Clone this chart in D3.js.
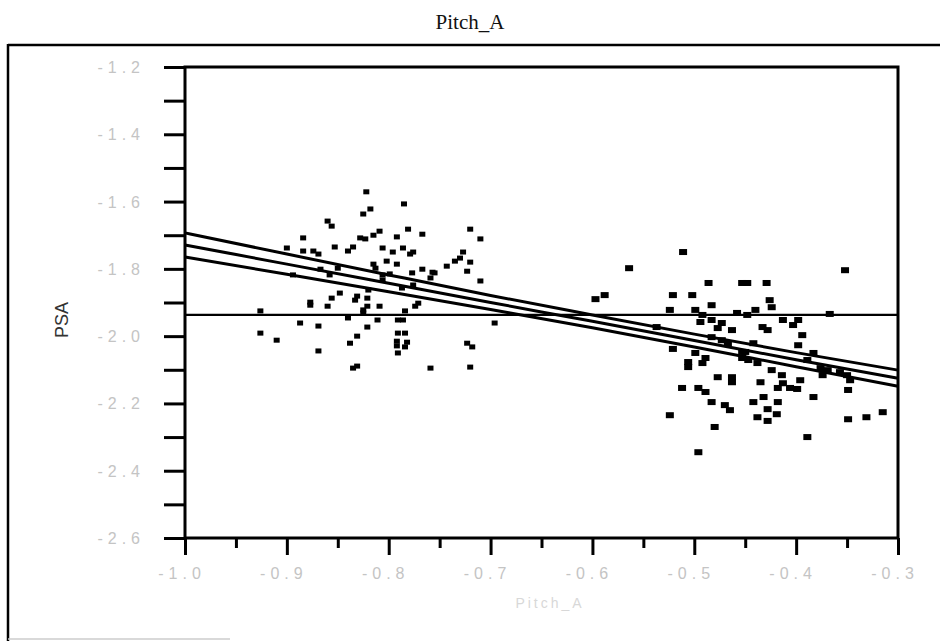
<!DOCTYPE html>
<html><head><meta charset="utf-8">
<script src="https://cdn.jsdelivr.net/npm/d3@7"></script>
<style>body{margin:0;background:#fff}svg{display:block}</style>
</head><body>
<script>
// ---- data ----
const title = "Pitch_A";
const yTitle = "PSA";
const xTitle = "Pitch_A";
const xDomain = [-1.0, -0.3];
const yDomain = [-2.6, -1.2];
const xTickValues = [-1.0, -0.9, -0.8, -0.7, -0.6, -0.5, -0.4, -0.3];
const xTickLabels = ["-1.0", "-0.9", "-0.8", "-0.7", "-0.6", "-0.5", "-0.4", "-0.3"];
const yTickValues = [-2.6, -2.4, -2.2, -2.0, -1.8, -1.6, -1.4, -1.2];
const yTickLabels = ["-2.6", "-2.4", "-2.2", "-2.0", "-1.8", "-1.6", "-1.4", "-1.2"];
const meanY = -1.937;
const fitX = [-1.0, -0.9, -0.8, -0.7, -0.6, -0.5, -0.4, -0.3];
const fitY = [-1.729, -1.786, -1.843, -1.900, -1.956, -2.013, -2.070, -2.125];
const upperY = [-1.693, -1.756, -1.818, -1.879, -1.937, -1.994, -2.049, -2.101];
const lowerY = [-1.765, -1.816, -1.868, -1.921, -1.975, -2.032, -2.091, -2.149];

const groupAX = [-0.822,-0.785,-0.818,-0.825,-0.860,-0.856,-0.720,-0.781,-0.809,-0.767,-0.815,-0.884,-0.792,-0.828,-0.823,-0.710,-0.835,-0.853,-0.900,-0.806,-0.786,-0.884,-0.874,-0.840,-0.796,-0.776,-0.869,-0.779,-0.727,-0.730,-0.802,-0.735,-0.720,-0.792,-0.815,-0.743,-0.813,-0.767,-0.723,-0.850,-0.867,-0.757,-0.755,-0.777,-0.759,-0.894,-0.858,-0.806,-0.799,-0.806,-0.710,-0.776,-0.787,-0.820,-0.848,-0.831,-0.856,-0.821,-0.833,-0.877,-0.877,-0.860,-0.809,-0.821,-0.771,-0.774,-0.825,-0.926,-0.784,-0.825,-0.840,-0.811,-0.791,-0.786,-0.887,-0.869,-0.821,-0.696,-0.926,-0.791,-0.784,-0.831,-0.910,-0.792,-0.782,-0.838,-0.723,-0.718,-0.792,-0.784,-0.869,-0.791,-0.831,-0.835,-0.759,-0.720];
const groupAY = [-1.571,-1.607,-1.622,-1.637,-1.658,-1.673,-1.682,-1.682,-1.688,-1.697,-1.700,-1.708,-1.705,-1.708,-1.711,-1.711,-1.735,-1.735,-1.738,-1.738,-1.738,-1.747,-1.747,-1.747,-1.750,-1.750,-1.756,-1.756,-1.750,-1.768,-1.777,-1.777,-1.780,-1.786,-1.786,-1.792,-1.798,-1.801,-1.807,-1.798,-1.801,-1.810,-1.812,-1.812,-1.827,-1.818,-1.818,-1.818,-1.815,-1.833,-1.836,-1.848,-1.857,-1.863,-1.872,-1.881,-1.887,-1.887,-1.893,-1.899,-1.908,-1.911,-1.911,-1.911,-1.902,-1.911,-1.922,-1.925,-1.925,-1.931,-1.946,-1.952,-1.952,-1.952,-1.961,-1.970,-1.973,-1.961,-1.991,-1.991,-1.991,-2.000,-2.012,-2.015,-2.018,-2.021,-2.021,-2.032,-2.029,-2.032,-2.044,-2.050,-2.089,-2.095,-2.095,-2.092];

const groupBX = [-0.511,-0.564,-0.486,-0.453,-0.588,-0.597,-0.521,-0.502,-0.483,-0.524,-0.499,-0.492,-0.458,-0.494,-0.483,-0.473,-0.477,-0.463,-0.537,-0.483,-0.473,-0.467,-0.521,-0.499,-0.453,-0.489,-0.506,-0.492,-0.453,-0.506,-0.477,-0.463,-0.463,-0.512,-0.496,-0.489,-0.483,-0.470,-0.465,-0.524,-0.480,-0.496,
 -0.352,-0.448,-0.429,-0.426,-0.424,-0.448,-0.440,-0.367,-0.413,-0.398,-0.403,-0.433,-0.428,-0.394,-0.398,-0.442,-0.450,-0.383,-0.447,-0.438,-0.389,-0.376,-0.369,-0.357,-0.424,-0.414,-0.374,-0.350,-0.347,-0.349,-0.435,-0.396,-0.413,-0.418,-0.406,-0.399,-0.383,-0.442,-0.432,-0.418,-0.428,-0.419,-0.438,-0.428,-0.349,-0.331,-0.315,-0.389];
const groupBY = [-1.750,-1.798,-1.842,-1.842,-1.878,-1.890,-1.878,-1.878,-1.908,-1.922,-1.922,-1.937,-1.931,-1.958,-1.952,-1.961,-1.976,-1.982,-1.973,-2.003,-2.012,-2.021,-2.038,-2.050,-2.047,-2.065,-2.077,-2.080,-2.065,-2.092,-2.122,-2.122,-2.137,-2.154,-2.154,-2.166,-2.196,-2.205,-2.220,-2.235,-2.270,-2.345,
 -1.804,-1.842,-1.842,-1.893,-1.914,-1.937,-1.922,-1.934,-1.952,-1.952,-1.967,-1.973,-1.982,-1.997,-2.027,-2.021,-2.047,-2.050,-2.071,-2.080,-2.071,-2.095,-2.101,-2.107,-2.101,-2.116,-2.116,-2.116,-2.131,-2.160,-2.137,-2.131,-2.140,-2.154,-2.154,-2.157,-2.181,-2.196,-2.181,-2.196,-2.217,-2.232,-2.241,-2.252,-2.247,-2.241,-2.226,-2.300];

// ---- drawing ----
const W = 940, H = 641;
const m = {left: 185, top: 67, right: 42, bottom: 103};
const iw = W - m.left - m.right, ih = H - m.top - m.bottom;

const svg = d3.select("body").append("svg").attr("width", W).attr("height", H);

// outer frame
svg.append("line").attr("x1", 8).attr("x2", W).attr("y1", 45).attr("y2", 45).attr("stroke", "#000").attr("stroke-width", 2.5);
svg.append("line").attr("x1", 8).attr("x2", 8).attr("y1", 44).attr("y2", H).attr("stroke", "#000").attr("stroke-width", 2.5);
svg.append("line").attr("x1", 8).attr("x2", 230).attr("y1", 639).attr("y2", 639).attr("stroke", "#ccc").attr("stroke-width", 1.5);

svg.append("text").attr("x", 470).attr("y", 29).attr("text-anchor", "middle")
  .attr("font-family", "Liberation Serif, serif").attr("font-size", 21).attr("fill", "#111").text(title);

const x = d3.scaleLinear().domain(xDomain).range([0, iw]);
const y = d3.scaleLinear().domain(yDomain).range([ih, 0]);

const g = svg.append("g").attr("transform", `translate(${m.left},${m.top})`);

// plot box
g.append("rect").attr("width", iw).attr("height", ih).attr("fill", "none").attr("stroke", "#000").attr("stroke-width", 3);

// y axis: ticks every 0.1, labels every 0.2
const yAxis = d3.axisLeft(y).tickValues(d3.range(15).map(i => yDomain[0] + i * 0.1)).tickSize(21).tickFormat("");
const ya = g.append("g").call(yAxis);
ya.select(".domain").remove();
ya.selectAll("line").attr("stroke", "#000").attr("stroke-width", 3);
g.selectAll(".ylab").data(yTickValues).join("text").attr("class", "ylab")
  .attr("x", -40).attr("y", d => y(d) + 6).attr("text-anchor", "end")
  .attr("font-family", "Liberation Sans, Arial, sans-serif").attr("font-size", 16)
  .attr("letter-spacing", 5).attr("fill", "#c4c4c4").text((d, i) => yTickLabels[i]);

// x axis: majors at 0.1 and minors at 0.05
const xa = g.append("g").attr("transform", `translate(0,${ih})`)
  .call(d3.axisBottom(x).tickValues(xTickValues).tickSize(17).tickFormat(""));
xa.select(".domain").remove();
xa.selectAll("line").attr("stroke", "#000").attr("stroke-width", 3);
const xm = g.append("g").attr("transform", `translate(0,${ih})`)
  .call(d3.axisBottom(x).tickValues(xTickValues.slice(0, -1).map(v => v + 0.05)).tickSize(10).tickFormat(""));
xm.select(".domain").remove();
xm.selectAll("line").attr("stroke", "#000").attr("stroke-width", 3);
g.selectAll(".xlab").data(xTickValues).join("text").attr("class", "xlab")
  .attr("x", d => x(d) - 3).attr("y", ih + 41).attr("text-anchor", "middle")
  .attr("font-family", "Liberation Sans, Arial, sans-serif").attr("font-size", 16)
  .attr("letter-spacing", 5).attr("fill", "#c4c4c4").text((d, i) => xTickLabels[i]);

svg.append("text").attr("transform", "translate(68,320) rotate(-90)").attr("text-anchor", "middle")
  .attr("font-family", "Liberation Sans, Arial, sans-serif").attr("font-size", 18).attr("fill", "#333").text(yTitle);
svg.append("text").attr("x", 550).attr("y", 608).attr("text-anchor", "middle")
  .attr("font-family", "Liberation Sans, Arial, sans-serif").attr("font-size", 14)
  .attr("letter-spacing", 3).attr("fill", "#d8d8d8").text(xTitle);

// mean line
g.append("line").attr("x1", 0).attr("x2", iw).attr("y1", y(meanY)).attr("y2", y(meanY))
  .attr("stroke", "#000").attr("stroke-width", 2.2);

// points
const A = groupAX.map((v, i) => [v, groupAY[i]]);
const B = groupBX.map((v, i) => [v, groupBY[i]]);
g.selectAll(".pa").data(A).join("rect").attr("class", "pa")
  .attr("x", d => x(d[0]) - 3).attr("y", d => y(d[1]) - 2.5).attr("width", 6).attr("height", 5).attr("fill", "#000");
g.selectAll(".pb").data(B).join("rect").attr("class", "pb")
  .attr("x", d => x(d[0]) - 4).attr("y", d => y(d[1]) - 3).attr("width", 8).attr("height", 6).attr("fill", "#000");

// fit and confidence lines
const line = d3.line().x(d => x(d[0])).y(d => y(d[1])).curve(d3.curveMonotoneX);
[upperY, fitY, lowerY].forEach(arr => {
  g.append("path").datum(fitX.map((v, i) => [v, arr[i]])).attr("d", line)
    .attr("fill", "none").attr("stroke", "#000").attr("stroke-width", 3);
});
</script>
</body></html>
